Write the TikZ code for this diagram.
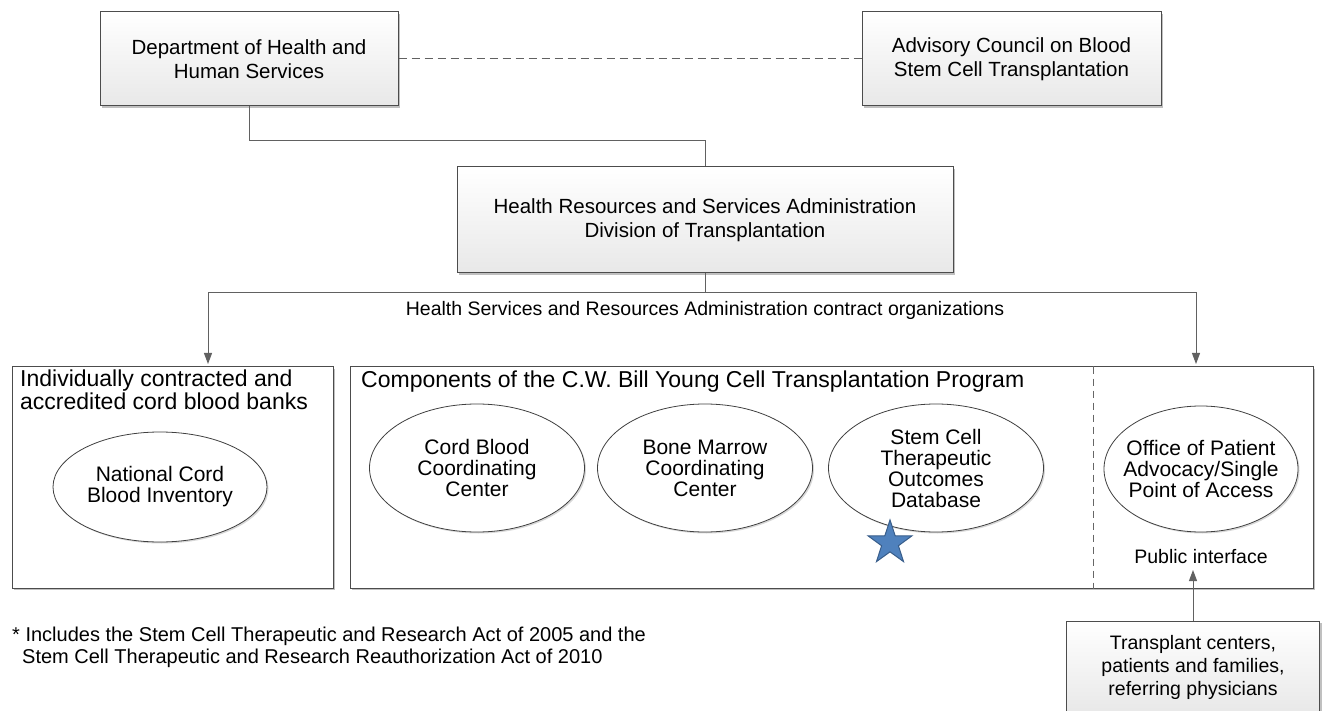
\documentclass[tikz,border=0pt]{standalone}
\usepackage{fontspec}
\setmainfont{Liberation Sans}
\usetikzlibrary{shapes.geometric, shadows, arrows.meta}
\definecolor{starblue}{HTML}{4F81BD}
\definecolor{stardark}{HTML}{385D8A}
\begin{document}
\begin{tikzpicture}[x=1pt,y=-1pt,
  shad/.style={drop shadow={shadow xshift=2pt, shadow yshift=-2pt, fill=black!45, opacity=0.55}},
  box/.style={shad, draw=black!70, line width=1pt, top color=white, bottom color=black!9,
    align=center, font=\fontsize{20.5}{24.5}\selectfont, inner sep=0pt},
  frame/.style={shad, draw=black!70, line width=1pt, fill=white, inner sep=0pt},
  oval/.style={ellipse, draw=black!75, line width=0.8pt, fill=white, align=center,
    font=\fontsize{21}{21}\selectfont, inner sep=0pt,
    drop shadow={shadow xshift=1.5pt, shadow yshift=-1.5pt, fill=black!30, opacity=0.5}},
  ovaltext/.style={align=center, inner sep=0pt, font=\fontsize{21}{21}\selectfont},
  conn/.style={draw=black!62, line width=1pt},
  arr/.style={conn, -{Triangle[length=11pt, width=8pt]}},
  title/.style={anchor=base west, inner sep=0pt, font=\fontsize{23}{26}\selectfont},
  small/.style={inner sep=0pt, font=\fontsize{19.5}{22}\selectfont},
  note/.style={anchor=base west, inner sep=0pt, font=\fontsize{20}{22}\selectfont},
]
\useasboundingbox (0,0) rectangle (1323,711);

% top boxes
\node[box, minimum width=298pt, minimum height=94pt] (dhhs) at (249,59)
  {Department of Health and\\Human Services};
\node[box, minimum width=299pt, minimum height=94pt] (adv) at (1011.5,59)
  {Advisory Council on Blood\\Stem Cell Transplantation};
\node[box, minimum width=496pt, minimum height=106pt] (hrsa) at (705,220)
  {Health Resources and Services Administration\\Division of Transplantation};

% frames
\node[frame, minimum width=321pt, minimum height=221pt] (lbox) at (172.5,477.5) {};
\node[frame, minimum width=963pt, minimum height=221pt] (mbox) at (831.5,477.5) {};
\draw[draw=black!60, line width=0.9pt, dash pattern=on 7pt off 5pt]
  (mbox.north -| 1093,0) -- (mbox.south -| 1093,0);

% titles
\node[title] (lt1) at (20,386) {Individually contracted and};
\node[title] (lt2) at (20,409) {accredited cord blood banks};
\node[title] (mt) at (361,387) {Components of the C.W. Bill Young Cell Transplantation Program};

% ellipses
\node[oval, minimum width=214pt, minimum height=110pt] (ncbi) at (160,487)
  {National Cord\\Blood Inventory};
\node[oval, minimum width=215pt, minimum height=128pt] (cbcc) at (477,468)
  {Cord Blood\\Coordinating\\Center};
\node[oval, minimum width=215pt, minimum height=128pt] (bmcc) at (705,468)
  {Bone Marrow\\Coordinating\\Center};
\node[oval, minimum width=215pt, minimum height=128pt] (sctod) at (936,468)
  {Stem Cell\\Therapeutic\\Outcomes\\Database};
\node[oval, minimum width=194pt, minimum height=126pt] (opa) at (1201,469) {};
\node[ovaltext] (opat) at (opa.center)
  {Office of Patient\\Advocacy/Single\\Point of Access};

% star
\node[star, star points=5, star point ratio=2.6, minimum size=46pt, inner sep=0pt,
  fill=starblue, draw=stardark, line width=1pt] (star) at (890,543) {};

% public interface
\node[small, anchor=base] (pub) at (1201,563) {Public interface};

% bottom right box
\node[box, font=\fontsize{19.5}{23}\selectfont, minimum width=253pt, minimum height=92pt] (tcb) at (1193,667)
  {Transplant centers,\\patients and families,\\referring physicians};
\coordinate (pubtip) at (1193,570);
\draw[arr] (tcb.north) -- (pubtip);

% connectors
\draw[conn, dash pattern=on 8pt off 5pt] (dhhs.east) -- (adv.west);
\draw[conn] (dhhs.south) -- ++(0,34) -| (hrsa.north);
\coordinate (tipL) at (208,364);
\coordinate (tipR) at (1196,364);
\draw[arr] (hrsa.south) -- ++(0,19) -| (tipL);
\draw[arr] (hrsa.south) -- ++(0,19) -| (tipR);
\node[small, anchor=base] (contract) at (705,316)
  {Health Services and Resources Administration contract organizations};

% footnote
\node[note] (fn1) at (12,641) {* Includes the Stem Cell Therapeutic and Research Act of 2005 and the};
\node[note] (fn2) at (22,663) {Stem Cell Therapeutic and Research Reauthorization Act of 2010};
\end{tikzpicture}
\end{document}
